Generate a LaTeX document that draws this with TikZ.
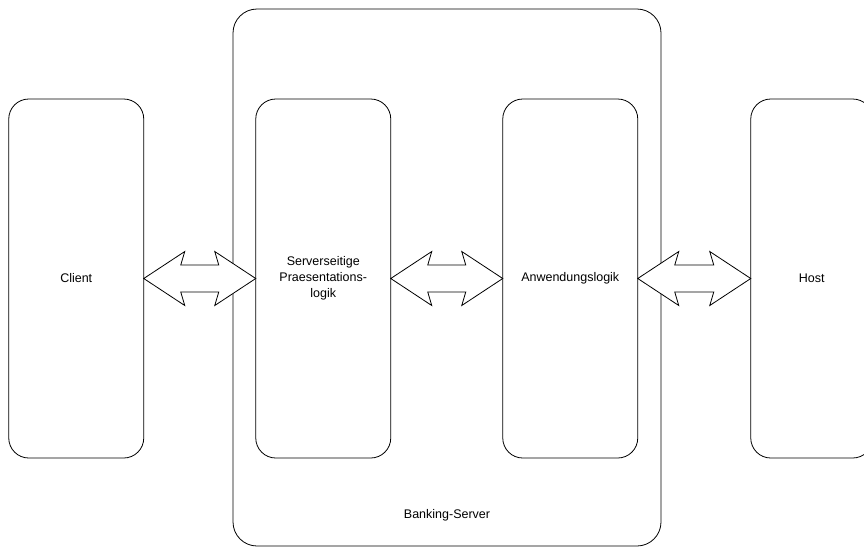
\documentclass[tikz,border=0pt]{standalone}
\usepackage{fontspec}
\setmainfont{Liberation Sans}
\usetikzlibrary{positioning,calc}
\newcommand\boxgap{112pt}
\newcommand\tipback{41}
\newcommand\shaftback{37}

\begin{document}
\begin{tikzpicture}[
x=1pt,y=-1pt,line width=0.8pt,
font=\fontsize{12.5}{16}\selectfont,
tier/.style={draw,rounded corners=20pt,minimum width=135pt,minimum height=359pt,
  outer sep=0pt,inner sep=0pt,align=center},
serverbox/.style={draw,rounded corners=24pt,minimum width=428pt,minimum height=537pt,
  outer sep=0pt,inner sep=0pt},
dblarrow/.style={draw,fill=white,line join=miter}
]
\useasboundingbox (0,0) rectangle (864,547);

% outer server frame
\node[serverbox] (server) at (447,277.5) {};
\node (srvlabel) at ($(server.south)+(0,-31)$) {Banking-Server};

% the four tiers
\node[tier] (client) at (76.25,278.5) {Client};
\node[tier,right=\boxgap of client] (praes) {Serverseitige\\Praesentations-\\logik};
\node[tier,right=\boxgap of praes] (anw) {Anwendungslogik};
\node[tier,minimum width=122pt,right=113pt of anw] (host) {Host};

% double block arrows between neighbours
\foreach \a/\b in {client/praes,praes/anw,anw/host}
{
\draw[dblarrow] (\a.east) -- ($(\a.east)+(\tipback,-27)$) -- ($(\a.east)+(\shaftback,-13.5)$)
  -- ($(\b.west)+(-\shaftback,-13.5)$) -- ($(\b.west)+(-\tipback,-27)$) -- (\b.west)
  -- ($(\b.west)+(-\tipback,27)$) -- ($(\b.west)+(-\shaftback,13.5)$)
  -- ($(\a.east)+(\shaftback,13.5)$) -- ($(\a.east)+(\tipback,27)$) -- cycle;
}
%\draw[red] (0,279) -- (864,279);
\end{tikzpicture}
\end{document}
